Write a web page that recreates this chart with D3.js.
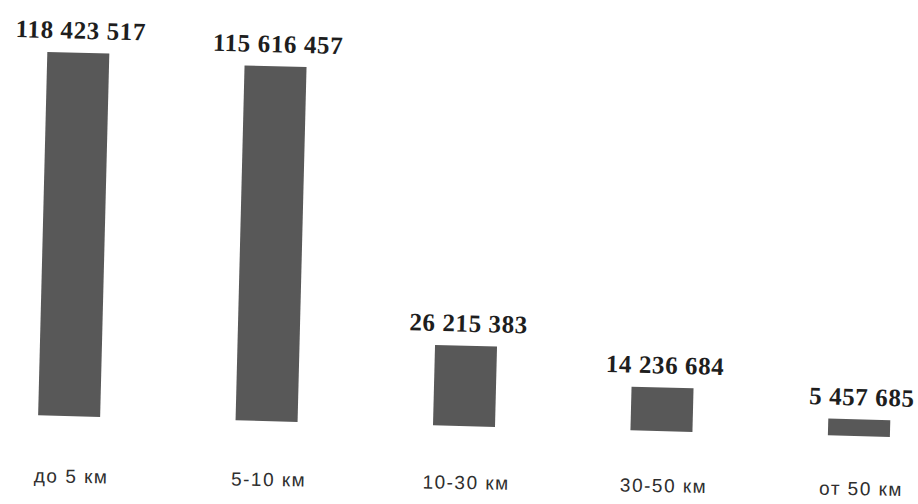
<!DOCTYPE html>
<html>
<head>
<meta charset="utf-8">
<script src="https://cdn.jsdelivr.net/npm/d3@7"></script>
<style>
  html, body { margin: 0; padding: 0; background: #fff; }
  svg { display: block; }
</style>
</head>
<body>
<svg width="918" height="504"></svg>
<script>
// categories and values
const categories = ["до 5 км", "5-10 км", "10-30 км", "30-50 км", "от 50 км"];
const values = [118423517, 115616457, 26215383, 14236684, 5457685];

const width = 918;
const height = 504;
const baseY = 426;
const labelY = 489;

// the scanned chart is slightly tilted clockwise
const tilt = 1.45;
const labelTilt = 0.9;

const x = d3.scaleBand()
  .domain(categories)
  .range([-29.75, 957.75])
  .paddingInner(0.686)
  .paddingOuter(0.343);

const y = d3.scaleLinear()
  .domain([0, 120e6])
  .range([baseY, baseY - 368.4]);

// numbers with spaces between groups of thousands
const fmt = d => d3.format(",")(d).replace(/,/g, " ");

const svg = d3.select("svg");

const g = svg.append("g")
  .attr("transform", `rotate(${tilt}, ${width / 2}, ${baseY})`);

// bars
g.append("g")
  .selectAll("rect")
  .data(values)
  .join("rect")
  .attr("x", (d, i) => x(categories[i]))
  .attr("y", d => y(d))
  .attr("width", x.bandwidth())
  .attr("height", d => baseY - y(d))
  .attr("fill", "#585858");

// value labels
g.append("g")
  .selectAll("text")
  .data(values)
  .join("text")
  .attr("x", (d, i) => x(categories[i]) + x.bandwidth() / 2 + 2)
  .attr("y", d => y(d) - 14)
  .attr("text-anchor", "middle")
  .attr("font-family", "'Liberation Serif', 'Times New Roman', serif")
  .attr("font-weight", "bold")
  .attr("font-size", 25)
  .attr("letter-spacing", 0.6)
  .attr("fill", "#1e1e1e")
  .text(d => fmt(d));

// category labels (their row is tilted a bit less than the bars)
svg.append("g")
  .attr("transform", `rotate(${labelTilt}, ${width / 2}, ${labelY})`)
  .selectAll("text")
  .data(categories)
  .join("text")
  .attr("x", d => x(d) + x.bandwidth() / 2 + 2)
  .attr("y", labelY)
  .attr("text-anchor", "middle")
  .attr("font-family", "'Liberation Sans', Arial, sans-serif")
  .attr("font-size", 19)
  .attr("letter-spacing", 1.5)
  .attr("fill", "#2e2e2e")
  .text(d => d);
</script>
</body>
</html>
